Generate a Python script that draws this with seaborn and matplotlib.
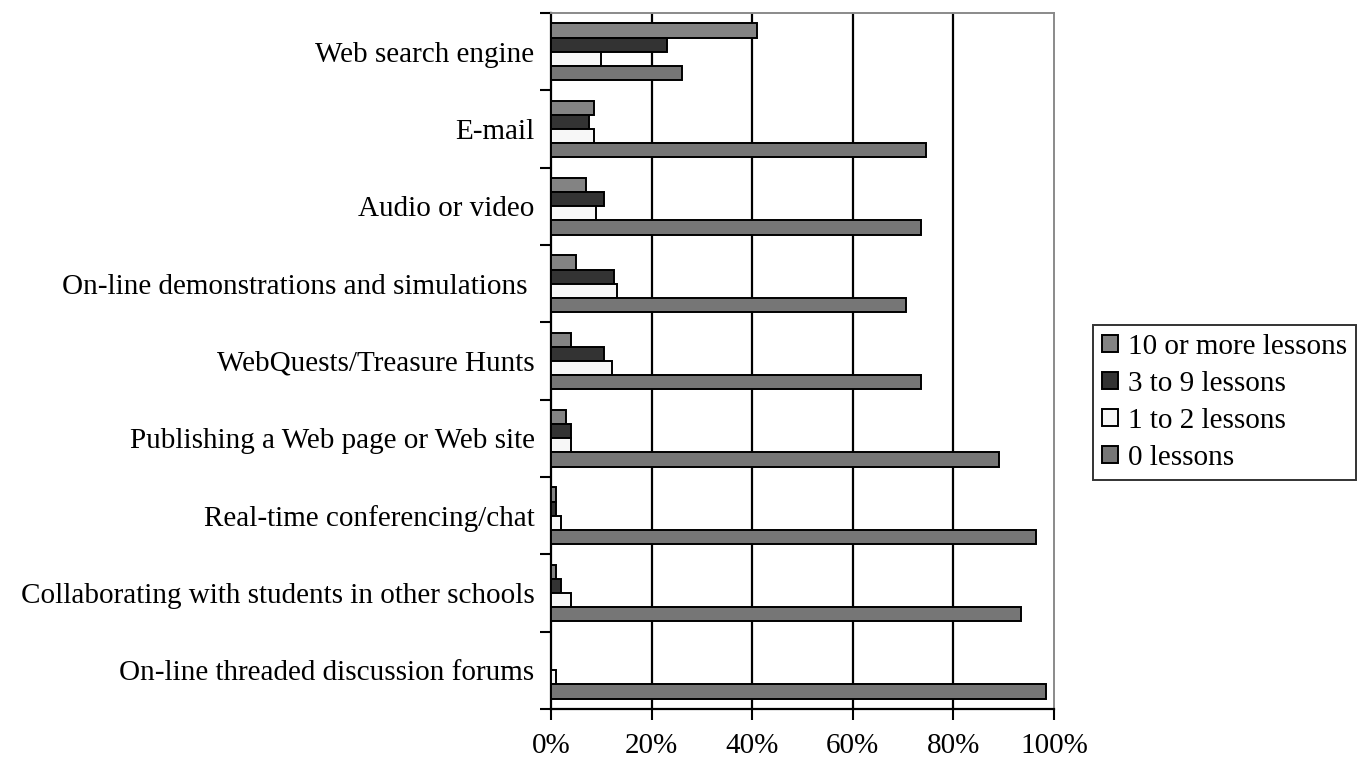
import numpy as np
import pandas as pd
import matplotlib
matplotlib.use("Agg")
import matplotlib.pyplot as plt
import seaborn as sns
from matplotlib.ticker import FixedLocator, PercentFormatter

# Share of teachers by number of lessons in which each Internet activity was used
activities = [
    "Web search engine",
    "E-mail",
    "Audio or video",
    "On-line demonstrations and simulations ",
    "WebQuests/Treasure Hunts",
    "Publishing a Web page or Web site",
    "Real-time conferencing/chat",
    "Collaborating with students in other schools",
    "On-line threaded discussion forums",
]
ten_or_more = [41, 8.5, 7, 5, 4, 3, 1, 1, 0]
three_to_nine = [23, 7.5, 10.5, 12.5, 10.5, 4, 1, 2, 0]
one_to_two = [10, 8.5, 9, 13, 12, 4, 2, 4, 1]
zero_lessons = [26, 74.5, 73.5, 70.5, 73.5, 89, 96.5, 93.5, 98.5]

series_names = ["10 or more lessons", "3 to 9 lessons", "1 to 2 lessons", "0 lessons"]
series_values = [ten_or_more, three_to_nine, one_to_two, zero_lessons]
series_colors = ["#838383", "#333333", "#f7f7f7", "#767676"]

rows = []
for name, vals in zip(series_names, series_values):
    for act, v in zip(activities, vals):
        rows.append({"activity": act, "lessons": name, "percent": v})
df = pd.DataFrame(rows)

sns.set_style("white")
plt.rcParams["font.family"] = ["Liberation Serif", "DejaVu Serif"]
plt.rcParams["text.color"] = "black"
plt.rcParams["xtick.labelcolor"] = "black"
plt.rcParams["ytick.labelcolor"] = "black"

FS = 21

fig = plt.figure(figsize=(13.61, 7.62), dpi=100)
ax = fig.add_axes([0.405, 0.0696, 0.3694, 0.9134])

sns.barplot(
    data=df, y="activity", x="percent", hue="lessons",
    order=activities, hue_order=series_names,
    palette=dict(zip(series_names, series_colors)),
    orient="h", width=0.73, saturation=1,
    edgecolor="black", linewidth=1.4, ax=ax, zorder=3,
)

ax.set_xlim(0, 100)
ax.set_ylim(len(activities) - 0.5, -0.5)
ax.set_xlabel("")
ax.set_ylabel("")

# x axis: percentages with vertical gridlines
ax.set_xticks([0, 20, 40, 60, 80, 100])
ax.xaxis.set_major_formatter(PercentFormatter(decimals=0))
ax.tick_params(axis="x", which="major", direction="out", length=8, width=1.5,
               color="black", labelsize=FS, labelcolor="black", pad=9, bottom=True)
for gx in [20, 40, 60, 80]:
    ax.axvline(gx, color="black", lw=1.6, zorder=1)

# y axis: labels at category centres, tick marks between categories
ax.set_yticks(np.arange(len(activities)))
ax.set_yticklabels(activities)
ax.tick_params(axis="y", which="major", length=0, labelsize=FS,
               labelcolor="black", pad=12)
ax.yaxis.set_minor_locator(FixedLocator(np.arange(len(activities) + 1) - 0.5))
ax.tick_params(axis="y", which="minor", direction="out", length=8, width=1.5,
               color="black", left=True)

for side in ["left", "bottom"]:
    ax.spines[side].set_color("black")
    ax.spines[side].set_linewidth(1.6)
for side in ["top", "right"]:
    ax.spines[side].set_color("#8a8a8a")
    ax.spines[side].set_linewidth(1.4)

handles, labels = ax.get_legend_handles_labels()
ax.get_legend().remove()
leg = fig.legend(
    handles, labels, loc="center left", bbox_to_anchor=(0.803, 0.472),
    frameon=True, fancybox=False, shadow=False, fontsize=FS,
    handlelength=0.55, handleheight=0.55, handletextpad=0.35,
    labelspacing=0.38, borderpad=0.3, borderaxespad=0,
)
leg.get_frame().set_edgecolor("black")
leg.get_frame().set_linewidth(1.4)
for t in leg.get_texts():
    t.set_color("black")

fig.savefig("out.png", dpi=100, facecolor="white")
